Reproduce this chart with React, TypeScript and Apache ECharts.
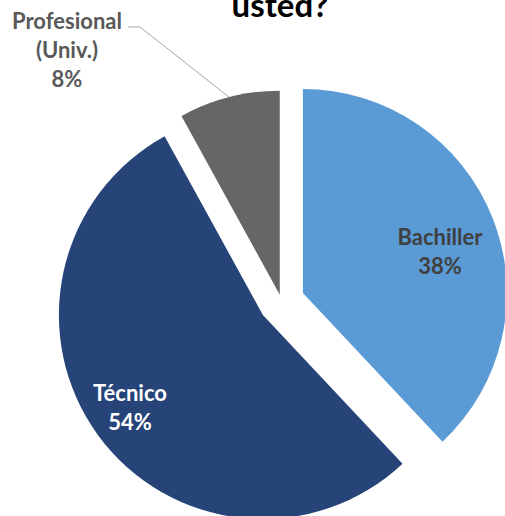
import React, { useEffect, useRef } from 'react';
import * as echarts from 'echarts';

const categories = ['Bachiller', 'Técnico', 'Profesional\n(Univ.)'];
const values = [38, 54, 8];
const colors = ['#5B9BD5', '#264478', '#666666'];
const explode = [23, 23, 7];
const labelColors = ['#404040', '#FFFFFF', '#595959'];
const labelPositions = [[440, 251], [130, 407], [67, 49]];
const titleText = 'usted?';

export default function App() {
  const ref = useRef<HTMLDivElement>(null);
  useEffect(() => {
    const chart = echarts.init(ref.current!, null, { renderer: 'svg' });
    const total = values.reduce((a, b) => a + b, 0);
    const baseCenter = [281.5, 301.5];
    const R = 204;
    let acc = 0;
    const series = values.map((v, i) => {
      const start = (acc / total) * 2 * Math.PI;
      acc += v;
      const end = (acc / total) * 2 * Math.PI;
      const mid = (start + end) / 2;
      const cx = baseCenter[0] + explode[i] * Math.sin(mid);
      const cy = baseCenter[1] - explode[i] * Math.cos(mid);
      const edge = [cx + R * Math.sin(mid), cy - R * Math.cos(mid)];
      return {
        type: 'pie',
        center: [cx, cy],
        radius: R,
        startAngle: 90,
        clockwise: true,
        silent: true,
        avoidLabelOverlap: false,
        data: values.map((vv, j) => ({
          name: categories[j],
          value: vv,
          itemStyle: { color: colors[j], opacity: j === i ? 1 : 0, borderWidth: 0 },
          label: { show: j === i },
          labelLine: { show: j === i && i === 2 },
        })),
        label: {
          position: i === 2 ? 'outside' : 'inside',
          formatter: '{b}\n{c}%',
          fontFamily: 'Lato',
          fontWeight: 'bold',
          fontSize: 22,
          lineHeight: 29,
          color: labelColors[i],
          align: 'center',
        },
        labelLine: { lineStyle: { color: '#A6A6A6', width: 1 } },
        labelLayout: (p: any) => {
          if (p.dataIndex !== i) return {};
          const out: any = {
            x: labelPositions[i][0],
            y: labelPositions[i][1],
            align: 'center',
            verticalAlign: 'middle',
          };
          if (i === 2) {
            out.labelLinePoints = [edge, [140, 27], [128, 27]];
          }
          return out;
        },
      };
    });
    chart.setOption({
      animation: false,
      backgroundColor: '#FFFFFF',
      graphic: [
        {
          type: 'text',
          x: 280,
          y: 20,
          style: {
            text: titleText,
            font: 'bold 33px Lato',
            fill: '#000000',
            align: 'center',
            verticalAlign: 'bottom',
          },
        },
      ],
      series,
    });
    return () => chart.dispose();
  }, []);
  return (
    <div
      ref={ref}
      style={{ position: 'fixed', left: 0, top: 0, width: 505, height: 516 }}
    />
  );
}
